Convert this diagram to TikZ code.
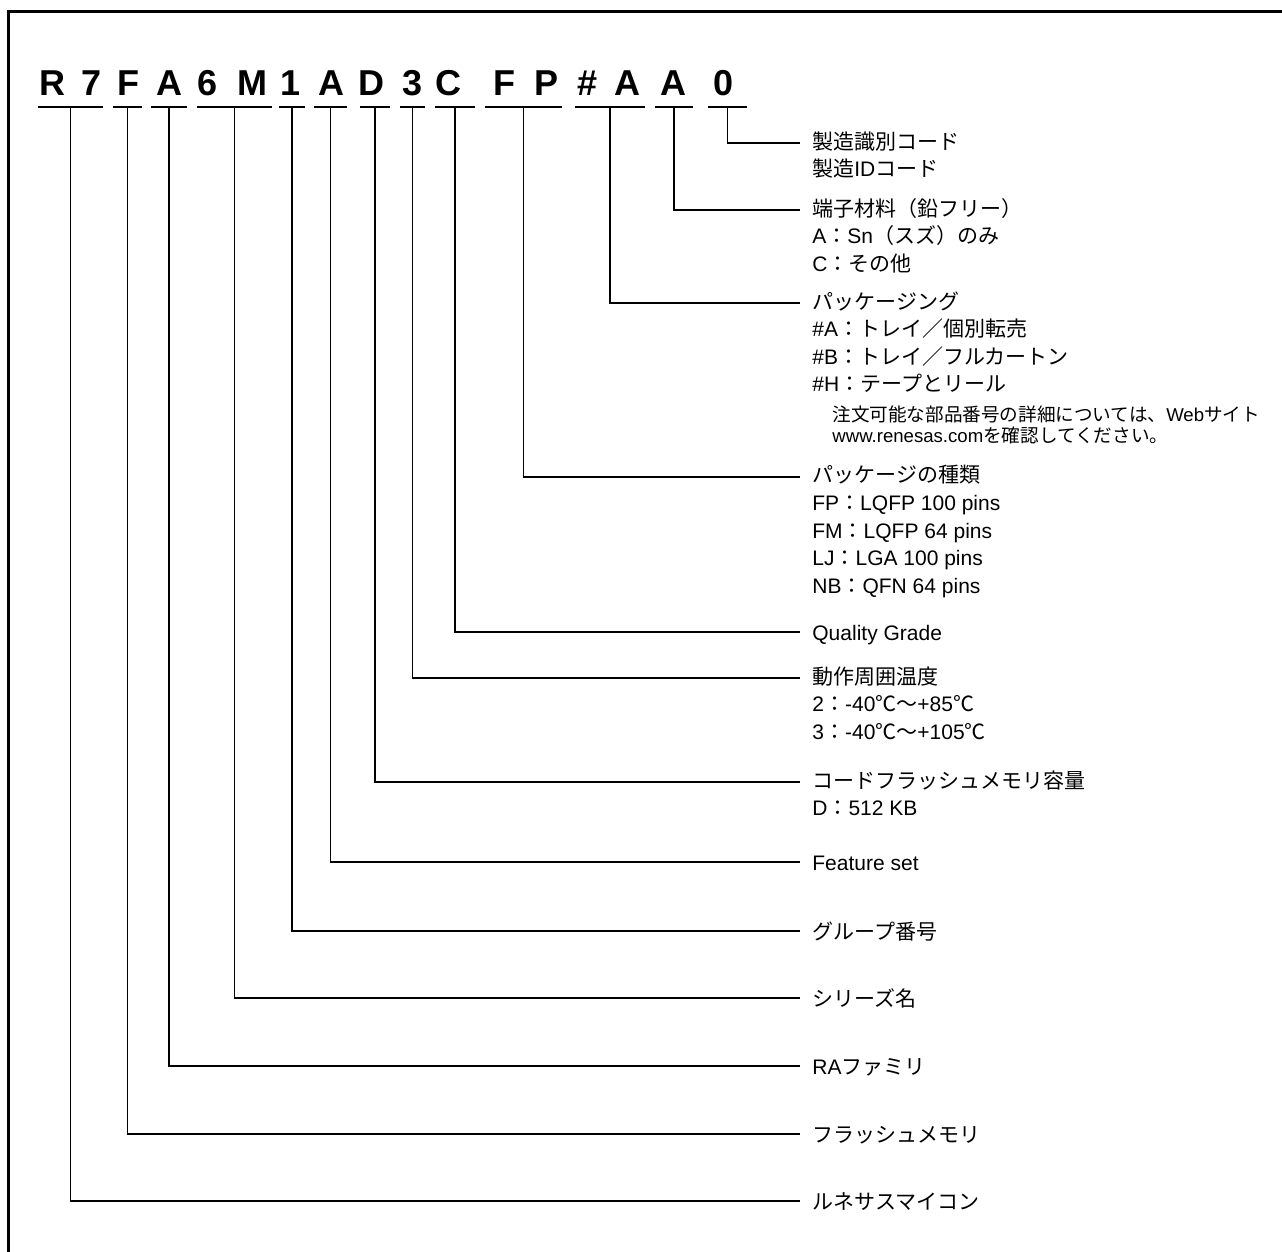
\documentclass[tikz,border=0pt]{standalone}
\usepackage{fontspec}
\setmainfont{Liberation Sans}
\newfontfamily\jpfont{Noto Sans CJK JP}
\newcommand{\J}[1]{{\jpfont #1}}

\begin{document}
\begin{tikzpicture}[x=0.5pt,y=-0.5pt,
    code/.style={font=\fontsize{18}{18}\selectfont\bfseries,inner sep=0pt,anchor=base},
    lbl/.style={anchor=north west,align=left,inner xsep=6pt,inner ysep=0pt,
        execute at begin node={\rule{0pt}{10pt}},font=\fontsize{10.5}{13.8}\selectfont},
    note/.style={lbl,font=\fontsize{9.3}{10.5}\selectfont},
    uline/.style={line width=1pt},
    lead/.style={line width=0.7pt}]

    \useasboundingbox (0,0) rectangle (1282,1252);
    \draw[line width=1.5pt] (8.5,1252) -- (8.5,11.5) -- (1282,11.5);

    % part number and its groups
    \foreach \x/\c [count=\i] in {52.5/R,91.5/7,128/F,169/A,208/6,252/M,290.5/1,331/A,371/D,
        413/3,448.5/C,504/F,547/P,588/\#,627/A,673/A,724/0}
        \node[code] (c\i) at (\x,96) {\c};
    \foreach \x/\w [count=\i] in {70.5/32.5,127.5/14.5,169/18,234.5/37.5,292/13,330.5/16.5,375/15,
        412.5/12.5,455/20,523.5/38.5,610/35,674/19,727.5/19.5} {
        \coordinate (u\i) at (\x,107);
        \draw[uline] (\x-\w,107) -- (\x+\w,107);
    }

    % labels, top edge 12px above the lead line
    \node[lbl] (mfg) at (800,131) {\J{製造識別コード}\\\J{製造}ID\J{コード}};
    \node[lbl] (term) at (800,198) {\J{端子材料（鉛フリー）}\\A\J{：}Sn\J{（スズ）のみ}\\C\J{：その他}};
    \node[lbl] (pack) at (800,291) {\J{パッケージング}\\\#A\J{：トレイ／個別転売}\\\#B\J{：トレイ／フルカートン}\\\#H\J{：テープとリール}};
    \node[note] (packnote) at (820,405) {\J{注文可能な部品番号の詳細については、}Web\J{サイト}\\www.renesas.com\J{を確認してください。}};
    \node[lbl] (ptype) at (800,465) {\J{パッケージの種類}\\FP\J{：}LQFP 100 pins\\FM\J{：}LQFP 64 pins\\LJ\J{：}LGA 100 pins\\NB\J{：}QFN 64 pins};
    \node[lbl] (qual) at (800,620) {Quality Grade};
    \node[lbl] (temp) at (800,666) {\J{動作周囲温度}\\2\J{：}-40\J{℃～}+85\J{℃}\\3\J{：}-40\J{℃～}+105\J{℃}};
    \node[lbl] (flash) at (800,770) {\J{コードフラッシュメモリ容量}\\D\J{：}512 KB};
    \node[lbl] (feat) at (800,850) {Feature set};
    \node[lbl] (grp) at (800,919) {\J{グループ番号}};
    \node[lbl] (ser) at (800,986) {\J{シリーズ名}};
    \node[lbl] (fam) at (800,1054) {RA\J{ファミリ}};
    \node[lbl] (fmem) at (800,1122) {\J{フラッシュメモリ}};
    \node[lbl] (mcu) at (800,1189) {\J{ルネサスマイコン}};

    \draw[lead] (u13) |- ([yshift=-6pt]mfg.north west);
    \draw[lead] (u12) |- ([yshift=-6pt]term.north west);
    \draw[lead] (u11) |- ([yshift=-6pt]pack.north west);
    \draw[lead] (u10) |- ([yshift=-6pt]ptype.north west);
    \draw[lead] (u9) |- ([yshift=-6pt]qual.north west);
    \draw[lead] (u8) |- ([yshift=-6pt]temp.north west);
    \draw[lead] (u7) |- ([yshift=-6pt]flash.north west);
    \draw[lead] (u6) |- ([yshift=-6pt]feat.north west);
    \draw[lead] (u5) |- ([yshift=-6pt]grp.north west);
    \draw[lead] (u4) |- ([yshift=-6pt]ser.north west);
    \draw[lead] (u3) |- ([yshift=-6pt]fam.north west);
    \draw[lead] (u2) |- ([yshift=-6pt]fmem.north west);
    \draw[lead] (u1) |- ([yshift=-6pt]mcu.north west);
\end{tikzpicture}
\end{document}
